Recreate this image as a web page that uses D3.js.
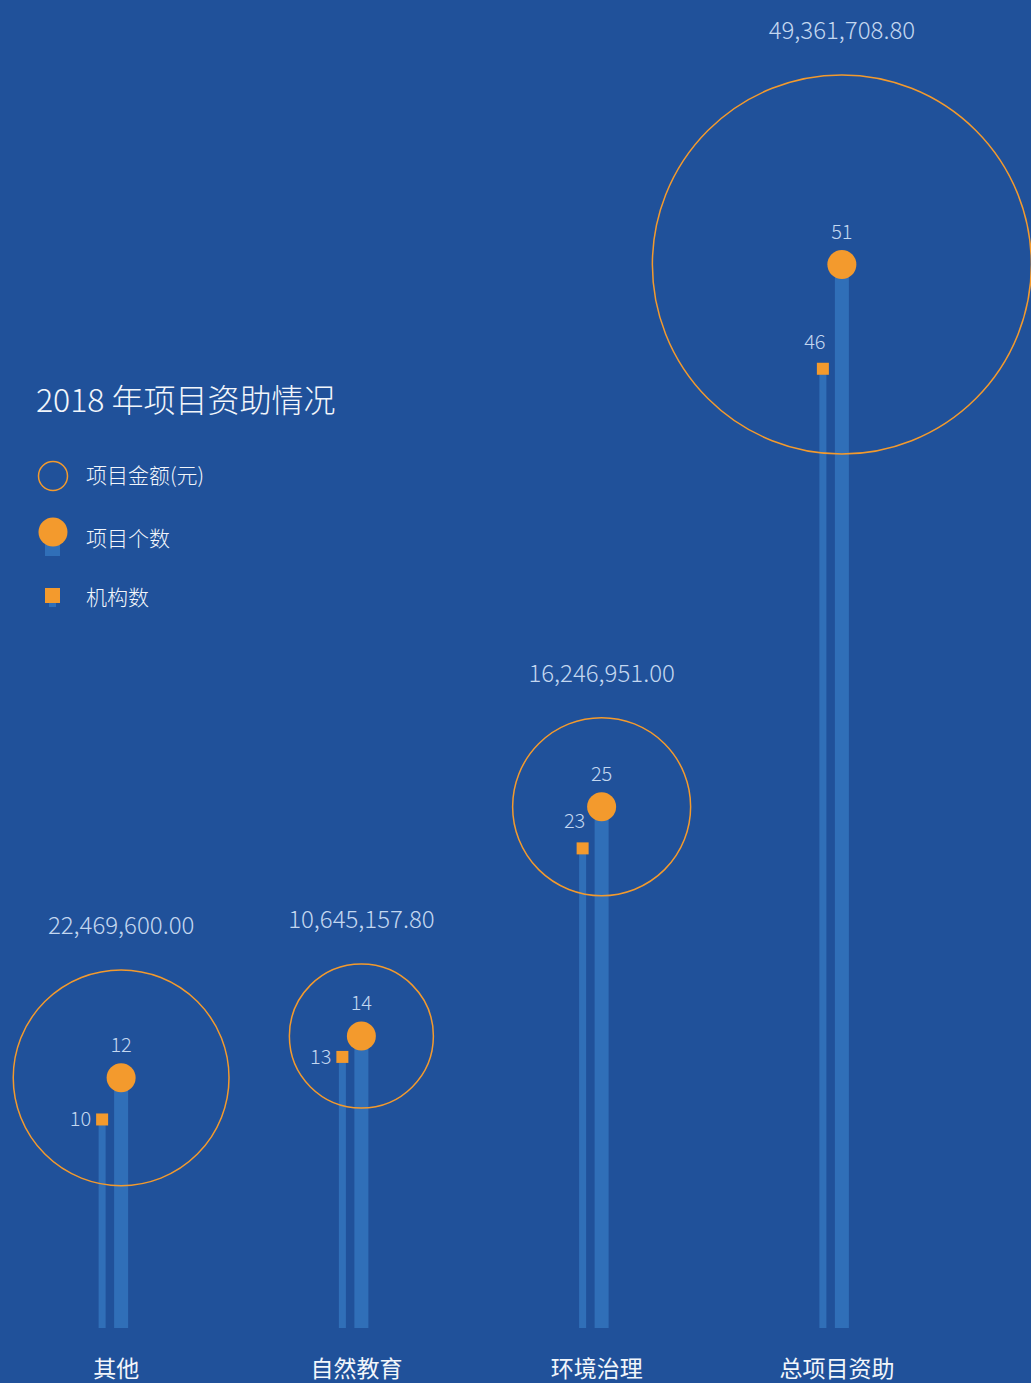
<!DOCTYPE html>
<html>
<head>
<meta charset="utf-8">
<script src="https://cdn.jsdelivr.net/npm/d3@7/dist/d3.min.js"></script>
<style>
  html, body { margin: 0; padding: 0; background: #20519a; }
  svg { display: block; }
  text { font-family: "Noto Sans CJK SC", "Noto Sans", sans-serif; }
</style>
</head>
<body>
<svg id="chart" width="1031" height="1383"></svg>
<script>
// ---- data ----
const categories = ["其他", "自然教育", "环境治理", "总项目资助"];
const projectCounts = [12, 14, 25, 51];
const orgCounts = [10, 13, 23, 46];
const amounts = [22469600.00, 10645157.80, 16246951.00, 49361708.80];
const titleText = "2018 年项目资助情况";
const legendLabels = ["项目金额(元)", "项目个数", "机构数"];

// ---- style ----
const W = 1031, H = 1383;
const BG = "#20519a", BAR = "#306fb8", ORANGE = "#f39a2d";
const NUM = "#c3d7f0", LABEL = "#f2f6fb";
const baseline = 1328;

const svg = d3.select("#chart");
svg.append("rect").attr("width", W).attr("height", H).attr("fill", BG);

const data = categories.map((c, i) => ({
  cat: c, proj: projectCounts[i], org: orgCounts[i], amt: amounts[i]
}));

const x = d3.scaleBand().domain(categories).range([1, 962]);
const cx = c => x(c) + x.bandwidth() / 2;

const minAmt = d3.min(amounts), maxAmt = d3.max(amounts);
const r = d3.scaleLinear().domain([minAmt, maxAmt]).range([72, 189.5]);

const topMargin = 75 + r(maxAmt);
const y = d3.scaleLinear().domain([0, d3.max(projectCounts)]).range([baseline, topMargin]);

const fmt = d3.format(",.2f");

const g = svg.append("g");
const item = g.selectAll("g.cat").data(data).join("g").attr("class", "cat");

// org bar (thin)
item.append("rect")
  .attr("x", d => cx(d.cat) - 19 - 3.5)
  .attr("width", 7)
  .attr("y", d => y(d.org))
  .attr("height", d => baseline - y(d.org))
  .attr("fill", BAR);

// project bar (wide)
item.append("rect")
  .attr("x", d => cx(d.cat) - 7)
  .attr("width", 14)
  .attr("y", d => y(d.proj))
  .attr("height", d => baseline - y(d.proj))
  .attr("fill", BAR);

// amount circle
item.append("circle")
  .attr("cx", d => cx(d.cat))
  .attr("cy", d => y(d.proj))
  .attr("r", d => r(d.amt))
  .attr("fill", "none")
  .attr("stroke", ORANGE)
  .attr("stroke-width", 1.5);

// project dot
item.append("circle")
  .attr("cx", d => cx(d.cat))
  .attr("cy", d => y(d.proj))
  .attr("r", 14.5)
  .attr("fill", ORANGE);

// org square
item.append("rect")
  .attr("x", d => cx(d.cat) - 19 - 6)
  .attr("y", d => y(d.org) - 6)
  .attr("width", 12).attr("height", 12)
  .attr("fill", ORANGE);

// project count label
item.append("text")
  .attr("x", d => cx(d.cat))
  .attr("y", d => y(d.proj) - 26)
  .attr("text-anchor", "middle")
  .attr("font-size", 20)
  .attr("font-weight", 300)
  .attr("fill", NUM)
  .text(d => d.proj);

// org count label: left of square when low in the chart, above otherwise
const lowSide = d => y(d.org) > H * 0.7;
item.append("text")
  .attr("x", d => lowSide(d) ? cx(d.cat) - 19 - 11 : cx(d.cat) - 19 - 8)
  .attr("y", d => lowSide(d) ? y(d.org) + 7 : y(d.org) - 20)
  .attr("text-anchor", d => lowSide(d) ? "end" : "middle")
  .attr("font-size", 20)
  .attr("font-weight", 300)
  .attr("fill", NUM)
  .text(d => d.org);

// amount label
item.append("text")
  .attr("x", d => cx(d.cat))
  .attr("y", d => y(d.proj) - r(d.amt) - 36)
  .attr("text-anchor", "middle")
  .attr("font-size", 24)
  .attr("font-weight", 300)
  .attr("fill", NUM)
  .text(d => fmt(d.amt));

// category label
item.append("text")
  .attr("x", d => cx(d.cat) - 5)
  .attr("y", 1377)
  .attr("text-anchor", "middle")
  .attr("font-size", 23)
  .attr("fill", LABEL)
  .text(d => d.cat);

// ---- title & legend ----
svg.append("text")
  .attr("x", 36).attr("y", 412)
  .attr("font-size", 32)
  .attr("font-weight", 300)
  .attr("fill", LABEL)
  .text(titleText);

const lg = svg.append("g");
const legendY = [476, 532, 596];
// hollow circle
lg.append("circle").attr("cx", 53).attr("cy", legendY[0]).attr("r", 14.5)
  .attr("fill", "none").attr("stroke", ORANGE).attr("stroke-width", 1.5);
// project: bar + dot
lg.append("rect").attr("x", 45).attr("y", legendY[1] + 8).attr("width", 15).attr("height", 16).attr("fill", BAR);
lg.append("circle").attr("cx", 53).attr("cy", legendY[1]).attr("r", 14.5).attr("fill", ORANGE);
// org: bar + square
lg.append("rect").attr("x", 49).attr("y", legendY[2] + 6).attr("width", 7).attr("height", 5).attr("fill", BAR);
lg.append("rect").attr("x", 45).attr("y", legendY[2] - 8).attr("width", 15).attr("height", 15).attr("fill", ORANGE);

lg.selectAll("text.legend").data(legendLabels).join("text")
  .attr("class", "legend")
  .attr("x", 86)
  .attr("y", (d, i) => [legendY[0], legendY[1] + 7, legendY[2] + 2][i] + 7)
  .attr("font-size", 21)
  .attr("font-weight", 300)
  .attr("fill", LABEL)
  .text(d => d);
</script>
</body>
</html>
